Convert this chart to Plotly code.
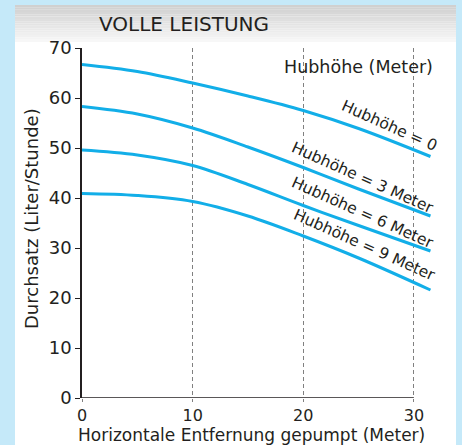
import plotly.graph_objects as go

# Data
x_dist = [0, 5, 10, 15, 20, 25, 31.5]
flow_h0 = [66.7, 65.3, 63.0, 60.4, 57.5, 53.9, 48.3]
flow_h3 = [58.3, 56.8, 54.0, 50.2, 46.1, 41.8, 36.4]
flow_h6 = [49.6, 48.6, 46.5, 42.7, 38.5, 34.5, 29.4]
flow_h9 = [40.9, 40.5, 39.3, 36.4, 32.4, 28.0, 21.6]

series = [flow_h0, flow_h3, flow_h6, flow_h9]
curve_labels = ["Hubhöhe = 0", "Hubhöhe = 3 Meter", "Hubhöhe = 6 Meter", "Hubhöhe = 9 Meter"]
label_x = [27.8, 25.4, 25.4, 25.5]
label_y = [54.4, 44.0, 37.0, 30.6]

x_ticks = [0, 10, 20, 30]
y_ticks = [0, 10, 20, 30, 40, 50, 60, 70]

FONT = "DejaVu Sans, Liberation Sans, Arial, sans-serif"
LINE = "#12aee8"
BG = "#c5e9f9"
TXT = "#231f20"

fig = go.Figure()
for ys in series:
    fig.add_trace(go.Scatter(x=x_dist, y=ys, mode="lines",
                             line=dict(color=LINE, width=3, shape="spline", smoothing=1.0),
                             showlegend=False, hoverinfo="skip"))

for t, lx, ly in zip(curve_labels, label_x, label_y):
    fig.add_annotation(x=lx, y=ly, text=t, showarrow=False, textangle=24,
                       font=dict(family=FONT, size=15.5, color=TXT))

fig.add_annotation(x=25, y=66.2, text="Hubhöhe (Meter)", showarrow=False,
                   font=dict(family=FONT, size=17.5, color=TXT))

# panel background + header gradient
PW = 354.0
PH = 350.0
def px_x(p):
    return (p - 82) / PW
def px_y(p):
    return (398 - p) / PH

shapes = [dict(type="rect", xref="paper", yref="paper", x0=px_x(15), x1=px_x(456),
               y0=px_y(450), y1=px_y(5),
               fillcolor="white", line=dict(width=0), layer="below")]
n = 16
top_px, bot_px = 5, 42
for i in range(n):
    t = i / (n - 1)
    c = int(0xd0 + (0xf7 - 0xd0) * t)
    y0px = top_px + (bot_px - top_px) * i / n
    y1px = top_px + (bot_px - top_px) * (i + 1) / n
    shapes.append(dict(type="rect", xref="paper", yref="paper",
                       x0=px_x(15), x1=px_x(456),
                       y0=px_y(y1px), y1=px_y(y0px),
                       fillcolor=f"rgb({c},{c},{c})", line=dict(width=0), layer="below"))
# x axis line ending at 30
shapes.append(dict(type="line", xref="x", yref="y", x0=0, x1=30, y0=0, y1=0,
                   line=dict(color=TXT, width=1.5)))

fig.update_layout(
    width=462, height=445,
    margin=dict(l=82, r=26, t=48, b=47),
    paper_bgcolor=BG, plot_bgcolor="rgba(0,0,0,0)",
    shapes=shapes,
    font=dict(family=FONT, color=TXT),
)
fig.add_annotation(xref="paper", yref="paper", x=px_x(97), y=px_y(24),
                   xanchor="left", yanchor="middle", text="VOLLE LEISTUNG", showarrow=False,
                   font=dict(family=FONT, size=20, color=TXT))
fig.add_annotation(xref="paper", yref="paper", x=px_x(251), y=px_y(435),
                   xanchor="center", yanchor="middle",
                   text="Horizontale Entfernung gepumpt (Meter)", showarrow=False,
                   font=dict(family=FONT, size=17, color=TXT))
fig.add_annotation(xref="paper", yref="paper", x=px_x(31), y=px_y(219),
                   xanchor="center", yanchor="middle", textangle=-90,
                   text="Durchsatz (Liter/Stunde)", showarrow=False,
                   font=dict(family=FONT, size=18, color=TXT))

fig.update_xaxes(range=[0, 32], tickvals=x_ticks, showline=False, zeroline=False, automargin=False,
                 showgrid=True, griddash="4px,3px", gridcolor="#808080", gridwidth=1,
                 ticks="outside", ticklen=3, tickcolor="#808080",
                 tickfont=dict(size=16))
fig.update_yaxes(range=[0, 70], tickvals=y_ticks, showline=True, linecolor=TXT, linewidth=1.5,
                 automargin=False,
                 zeroline=False, showgrid=False, ticks="outside", ticklen=5, tickcolor=TXT,
                 tickfont=dict(size=18))

fig.write_html("out.html", config={"displayModeBar": False},
               post_script="document.body.style.margin='0';document.body.style.overflow='hidden';")
